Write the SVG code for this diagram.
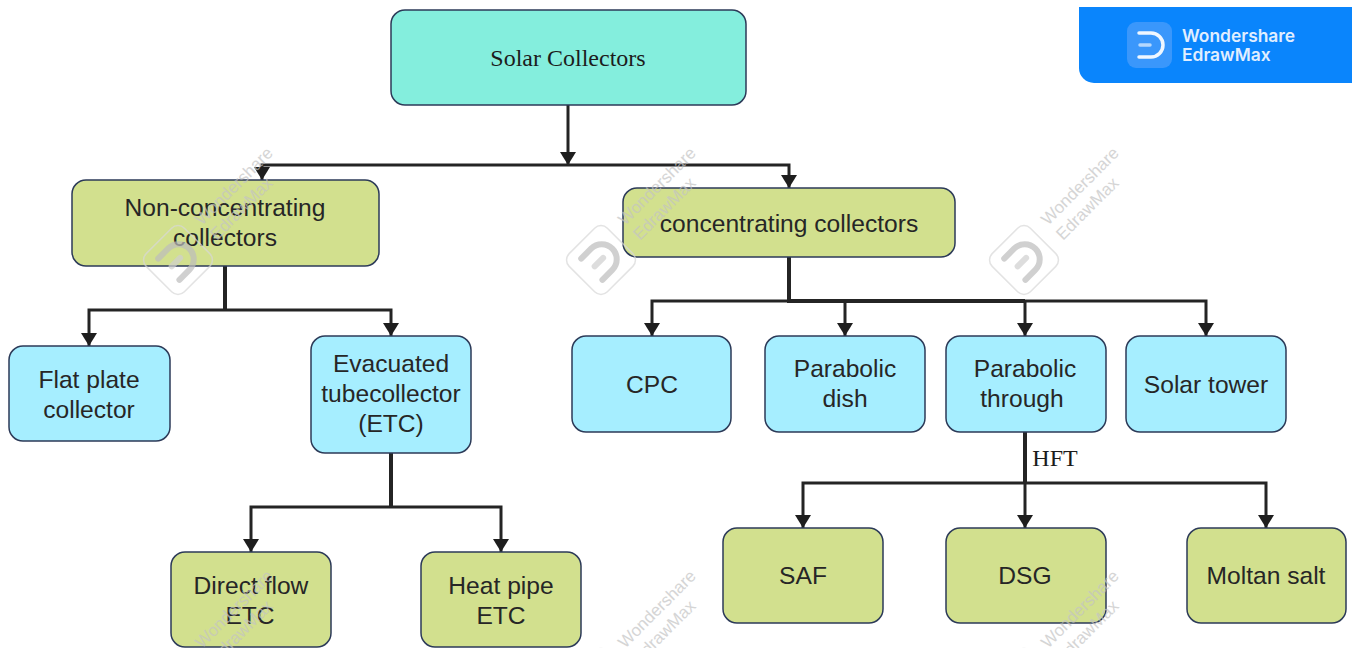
<svg xmlns="http://www.w3.org/2000/svg" width="1352" height="648" viewBox="0 0 1352 648">
<style>
.n{stroke:#2c3a58;stroke-width:1.5}
.c{fill:#84eedd}.g{fill:#d2e08e}.b{fill:#a6eeff}
text{font-family:"Liberation Sans",Arial,sans-serif;font-size:24.6px;fill:#262626;text-anchor:middle}
.s{font-family:"Liberation Serif","Times New Roman",serif;font-size:24px;fill:#1c1c1c}
.l{fill:none;stroke:#242424;stroke-width:3}
.h{stroke-width:4}
.wm{opacity:.7}
.wm text{font-size:17px;fill:#c4c4c4;text-anchor:start}
</style>
<defs>
<marker id="a" markerUnits="userSpaceOnUse" markerWidth="14" markerHeight="16" refX="13" refY="8" orient="auto"><path d="M0 0L13 8L0 16Z" fill="#1e1e1e"/></marker>
<g id="w" class="wm">
<rect x="-27" y="-27" width="54" height="54" rx="9" fill="none" stroke="#d8d8d8" stroke-width="1.5"/>
<path d="M-13 -15H1a15 15 0 0 1 0 30H-13" fill="none" stroke="#bdbdbd" stroke-width="6" stroke-linecap="round"/>
<path d="M-9 0H3" fill="none" stroke="#d0d0d0" stroke-width="6" stroke-linecap="round"/>
<text x="41" y="-7">Wondershare</text>
<text x="41" y="14">EdrawMax</text>
</g>
</defs>
<rect width="1352" height="648" fill="#fff"/>
<g id="connectors">
<path class="l" marker-end="url(#a)" d="M568 105V165"/>
<path class="l" marker-end="url(#a)" d="M568 165H262V180"/>
<path class="l" marker-end="url(#a)" d="M568 165H789V188"/>
<path class="l h" d="M225 266V310"/>
<path class="l" marker-end="url(#a)" d="M225 310H89V346"/>
<path class="l" marker-end="url(#a)" d="M225 310H391V336"/>
<path class="l h" d="M391 453V507"/>
<path class="l" marker-end="url(#a)" d="M391 507H251V552"/>
<path class="l" marker-end="url(#a)" d="M391 507H501V552"/>
<path class="l h" d="M789 257V301H1025"/>
<path class="l" marker-end="url(#a)" d="M789 301H652V336"/>
<path class="l" marker-end="url(#a)" d="M789 301H845V336"/>
<path class="l" marker-end="url(#a)" d="M1025 301V336"/>
<path class="l" marker-end="url(#a)" d="M1025 301H1206V336"/>
<path class="l h" d="M1025 432V483"/>
<path class="l" marker-end="url(#a)" d="M1025 483V528"/>
<path class="l" marker-end="url(#a)" d="M1025 483H803V528"/>
<path class="l" marker-end="url(#a)" d="M1025 483H1266V528"/>
</g>
<g id="n-solar"><rect class="n c" x="391" y="10" width="355" height="95" rx="14"/><text class="s" x="568" y="66">Solar Collectors</text></g>
<g id="n-nonconc"><rect class="n g" x="72" y="180" width="307" height="86" rx="14"/><text x="225" y="216">Non-concentrating</text><text x="225" y="246">collectors</text></g>
<g id="n-conc"><rect class="n g" x="623" y="188" width="332" height="69" rx="14"/><text x="789" y="232">concentrating collectors</text></g>
<g id="n-flat"><rect class="n b" x="9" y="346" width="161" height="95" rx="14"/><text x="89" y="388">Flat plate</text><text x="89" y="418">collector</text></g>
<g id="n-etc"><rect class="n b" x="311" y="336" width="160" height="117" rx="14"/><text x="391" y="372">Evacuated</text><text x="391" y="402">tubecollector</text><text x="391" y="432">(ETC)</text></g>
<g id="n-cpc"><rect class="n b" x="572" y="336" width="159" height="96" rx="14"/><text x="652" y="393">CPC</text></g>
<g id="n-dish"><rect class="n b" x="765" y="336" width="160" height="96" rx="14"/><text x="845" y="377">Parabolic</text><text x="845" y="407">dish</text></g>
<g id="n-through"><rect class="n b" x="946" y="336" width="160" height="96" rx="14"/><text x="1025" y="377">Parabolic</text><text x="1022" y="407">through</text></g>
<g id="n-tower"><rect class="n b" x="1126" y="336" width="160" height="96" rx="14"/><text x="1206" y="393">Solar tower</text></g>
<g id="n-direct"><rect class="n g" x="171" y="552" width="160" height="95" rx="14"/><text x="251" y="594">Direct flow</text><text x="250" y="624">ETC</text></g>
<g id="n-heat"><rect class="n g" x="421" y="552" width="160" height="95" rx="14"/><text x="501" y="594">Heat pipe</text><text x="501" y="624">ETC</text></g>
<g id="n-saf"><rect class="n g" x="723" y="528" width="160" height="95" rx="14"/><text x="803" y="584">SAF</text></g>
<g id="n-dsg"><rect class="n g" x="946" y="528" width="160" height="95" rx="14"/><text x="1025" y="584">DSG</text></g>
<g id="n-moltan"><rect class="n g" x="1187" y="528" width="159" height="95" rx="14"/><text x="1266" y="584">Moltan salt</text></g>
<text id="hft" class="s" x="1055" y="466">HFT</text>
<g id="watermarks">
<use href="#w" transform="translate(178 260) rotate(-45)"/>
<use href="#w" transform="translate(601 260) rotate(-45)"/>
<use href="#w" transform="translate(1024 260) rotate(-45)"/>
<use href="#w" transform="translate(178 683) rotate(-45)"/>
<use href="#w" transform="translate(601 683) rotate(-45)"/>
<use href="#w" transform="translate(1024 683) rotate(-45)"/>
</g>
<g id="badge">
<path d="M1079 7H1352V83H1094a15 15 0 0 1 -15 -15Z" fill="#0a85fc"/>
<rect x="1127" y="22" width="45" height="46" rx="9" fill="#3a97fb"/>
<path d="M1139 33H1151a12 12 0 0 1 0 24H1139" fill="none" stroke="#f0f7ff" stroke-width="3.5" stroke-linecap="round"/>
<path d="M1140 45H1150" fill="none" stroke="#b5d8fd" stroke-width="3.5" stroke-linecap="round"/>
<text x="1182" y="42" style="font-size:17.4px;fill:#e0eeff;text-anchor:start;font-weight:600;font-family:Inter,'Liberation Sans',sans-serif">Wondershare</text>
<text x="1182" y="61" style="font-size:17.4px;fill:#e0eeff;text-anchor:start;font-weight:600;font-family:Inter,'Liberation Sans',sans-serif">EdrawMax</text>
</g>
</svg>
